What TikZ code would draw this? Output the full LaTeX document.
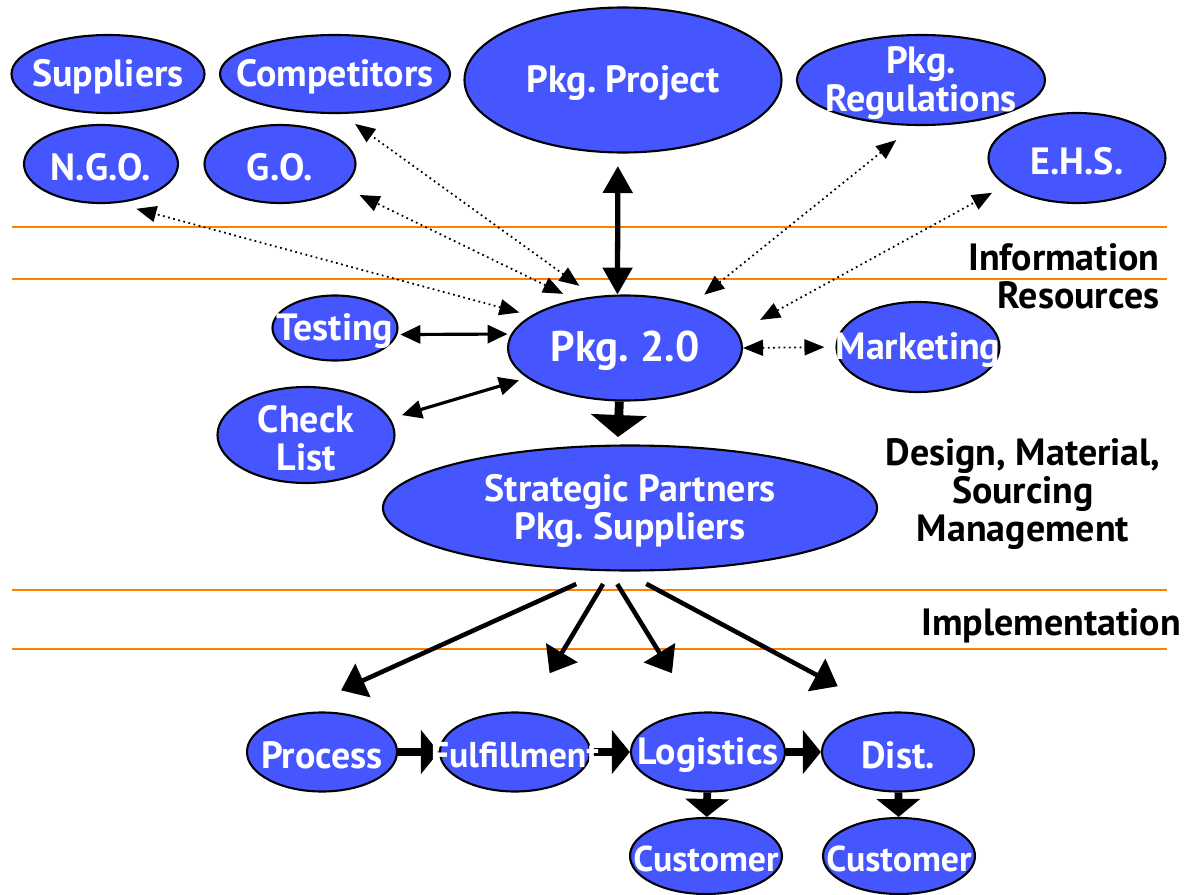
\documentclass[tikz,border=0pt]{standalone}
\usepackage{fontspec}
\setmainfont{PT Sans}
\frenchspacing
\usetikzlibrary{shapes.geometric,arrows.meta}

\definecolor{blobblue}{RGB}{70,86,255}
\definecolor{laneorange}{RGB}{255,128,0}

\pgfdeclarelayer{links}
\pgfsetlayers{links,main}

\tikzset{
	blob/.style={shape=ellipse,draw=black,line width=0.6pt,fill=blobblue,inner sep=0pt},
	word/.style={text=white,font=\bfseries\fontsize{10.8}{10.8}\selectfont,align=center,yshift=-0.03cm},
	smallword/.style={word,font=\bfseries\fontsize{10.2}{10.8}\selectfont},
	side/.style={text=black,font=\bfseries\fontsize{10.8}{10.8}\selectfont,inner sep=0pt},
	lane/.style={draw=laneorange,line width=0.7pt},
	infolink/.style={densely dotted,line width=0.5pt,{Triangle[length=0.2cm,width=0.16cm]}-{Triangle[length=0.2cm,width=0.16cm]}},
	toollink/.style={line width=0.9pt,{Triangle[length=0.2cm,width=0.18cm]}-{Triangle[length=0.2cm,width=0.18cm]}},
	projlink/.style={line width=1.5pt,{Triangle[length=0.27cm,width=0.29cm]}-{Triangle[length=0.27cm,width=0.29cm]}},
	bigflow/.style={line width=2.5pt,-{Triangle[length=0.22cm,width=0.55cm]}},
	spread/.style={line width=1.3pt,-{Triangle[length=0.24cm,width=0.36cm]}},
	chain/.style={line width=2.2pt,-{Triangle[length=0.18cm,width=0.43cm]}}
}

\begin{document}
\begin{tikzpicture}
	\useasboundingbox (0,0) rectangle (11.86,8.94);
	
	\node[blob,minimum width=1.93cm,minimum height=0.78cm,label={[word]center:Suppliers}] (sup) at (1.08,8.20) {};
	\node[blob,minimum width=2.30cm,minimum height=0.78cm,label={[word]center:Competitors}] (comp) at (3.35,8.20) {};
	\node[blob,minimum width=3.17cm,minimum height=1.45cm,label={[word]center:Pkg. Project}] (proj) at (6.23,8.14) {};
	\node[blob,minimum width=2.48cm,minimum height=0.90cm,label={[word]center:Pkg.\\Regulations}] (regs) at (9.21,8.14) {};
	\node[blob,minimum width=1.77cm,minimum height=0.90cm,label={[word]center:E.H.S.}] (ehs) at (10.77,7.36) {};
	\node[blob,minimum width=1.54cm,minimum height=0.78cm,label={[word]center:N.G.O.}] (ngo) at (1.01,7.30) {};
	\node[blob,minimum width=1.51cm,minimum height=0.78cm,label={[word]center:G.O.}] (go) at (2.80,7.30) {};
	
	\node[blob,minimum width=1.25cm,minimum height=0.65cm,label={[word]center:Testing}] (test) at (3.35,5.66) {};
	\node[blob,minimum width=2.34cm,minimum height=1.05cm,label={[word,font=\bfseries\fontsize{12.2}{13}\selectfont]center:Pkg. 2.0}] (p20) at (6.25,5.46) {};
	\node[blob,minimum width=1.63cm,minimum height=0.90cm,label={[word]center:Marketing}] (mkt) at (9.18,5.47) {};
	\node[blob,minimum width=1.77cm,minimum height=0.96cm,label={[word]center:Check\\List}] (chk) at (3.06,4.59) {};
	\node[blob,minimum width=4.94cm,minimum height=1.25cm,label={[word]center:Strategic Partners\\Pkg. Suppliers}] (sp) at (6.30,3.86) {};
	
	\node[blob,minimum width=1.50cm,minimum height=0.79cm,label={[word]center:Process}] (proc) at (3.22,1.42) {};
	\node[blob,minimum width=1.50cm,minimum height=0.79cm,label={[smallword]center:Fulfillment}] (ful) at (5.15,1.42) {};
	\node[blob,minimum width=1.54cm,minimum height=0.79cm,label={[word]center:Logistics}] (log) at (7.08,1.42) {};
	\node[blob,minimum width=1.52cm,minimum height=0.79cm,label={[word]center:Dist.}] (dist) at (8.98,1.42) {};
	\node[blob,minimum width=1.52cm,minimum height=0.76cm,label={[smallword]center:Customer}] (cus1) at (7.06,0.38) {};
	\node[blob,minimum width=1.52cm,minimum height=0.76cm,label={[smallword]center:Customer}] (cus2) at (8.99,0.38) {};
	
	\node[side,anchor=east,align=right] (info) at (11.60,6.18) {Information\\Resources};
	\node[side,align=center] (design) at (10.23,4.00) {Design, Material,\\Sourcing\\Management};
	\node[side] (impl) at (10.51,2.68) {Implementation};
	
	% links go under the ellipses so the white words stay on top
	\begin{pgfonlayer}{links}
	\draw[lane] (0.12,6.67) -- (11.67,6.67);
	\draw[lane] (0.12,6.15) -- (11.67,6.15);
	\draw[lane] (0.12,3.04) -- (11.67,3.04);
	\draw[lane] (0.12,2.45) -- (11.67,2.45);
	
	\draw[projlink,shorten <=0.125cm] (proj.-94.7) -- (p20.98.7);
	
	\draw[infolink,shorten <=0.18cm,shorten >=0.17cm] (p20.121.8) -- (comp.-81.3);
	\draw[infolink,shorten <=0.13cm,shorten >=0.185cm] (p20.136.8) -- (go.-20.5);
	\draw[infolink,shorten <=0.12cm,shorten >=0.21cm] (p20.161) -- (ngo.-69.8);
	\draw[infolink,shorten <=0.15cm,shorten >=0.225cm] (p20.33.1) -- (regs.-99.5);
	\draw[infolink,shorten <=0.255cm,shorten >=0.15cm] (p20.8.1) -- (ehs.-159.2);
	\draw[infolink,shorten >=0.11cm] (p20.east) -- (mkt.west);
	
	\draw[toollink,shorten <=0.03cm,shorten >=0.035cm] (test.-6.5) -- (p20.173.5);
	\draw[toollink,shorten <=0.12cm,shorten >=0.085cm] (chk.11.2) -- (p20.-163);
	
	\draw[bigflow,shorten >=0.075cm] (p20.-96.5) -- (sp.101);
	
	\draw[spread,shorten <=0.31cm,shorten >=0.80cm] (sp.-112) -- (proc.north west);
	\draw[spread,shorten <=0.147cm,shorten >=0.45cm] (sp.-107.4) -- (ful.74.4);
	\draw[spread,shorten <=0.15cm,shorten >=0.455cm] (sp.-108.4) -- (log.107.6);
	\draw[spread,shorten <=0.26cm,shorten >=0.545cm] (sp.-96.6) -- (dist.107.2);
	
	\draw[chain] (proc) -- (ful);
	\draw[chain] (ful) -- (log);
	\draw[chain] (log) -- (dist);
	\draw[chain] (log) -- (cus1);
	\draw[chain] (dist) -- (cus2);
	\end{pgfonlayer}
\end{tikzpicture}
\end{document}
